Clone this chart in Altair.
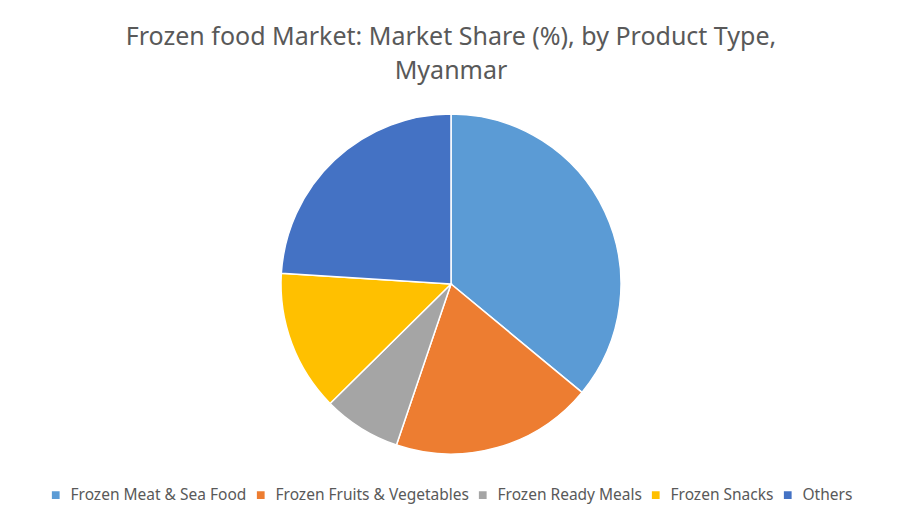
import pandas as pd
import altair as alt

categories = [
    "Frozen Meat & Sea Food",
    "Frozen Fruits & Vegetables",
    "Frozen Ready Meals",
    "Frozen Snacks",
    "Others",
]
shares = [36.0, 19.2, 7.4, 13.4, 24.0]
colors = ["#5B9BD5", "#ED7D31", "#A5A5A5", "#FFC000", "#4472C4"]

data = pd.DataFrame({"type": categories, "share": shares, "order": range(len(categories))})

chart = alt.Chart(data).mark_arc(
    radius=170,
    stroke="white",
    strokeWidth=1.5,
).encode(
    theta=alt.Theta("share:Q", stack=True),
    order=alt.Order("order:Q"),
    color=alt.Color(
        "type:N",
        sort=categories,
        scale=alt.Scale(domain=categories, range=colors),
        legend=alt.Legend(
            title=None,
            orient="none",
            legendX=40,
            legendY=378,
            direction="horizontal",
            columns=5,
            symbolType="square",
            symbolSize=60,
            symbolStrokeWidth=0,
            labelFont="Noto Sans",
            labelFontSize=15.5,
            labelColor="#595959",
            labelLimit=400,
            labelOffset=7,
            columnPadding=6,
            symbolOffset=0,
        ),
    ),
)

chart = chart.properties(
    width=886,
    height=350,
    padding={"left": 0, "right": 0, "top": 17, "bottom": 10},
    title=alt.TitleParams(
        "Frozen food Market: Market Share (%), by Product Type,",
        subtitle="Myanmar",
        font="Noto Sans",
        fontSize=25,
        fontWeight="normal",
        color="#595959",
        subtitleFont="Noto Sans",
        subtitleFontSize=25,
        subtitleColor="#595959",
        subtitlePadding=9,
        anchor="middle",
        offset=25,
    ),
).configure_view(stroke=None)

chart.save("out.html", embed_options={"renderer": "svg", "actions": False})
